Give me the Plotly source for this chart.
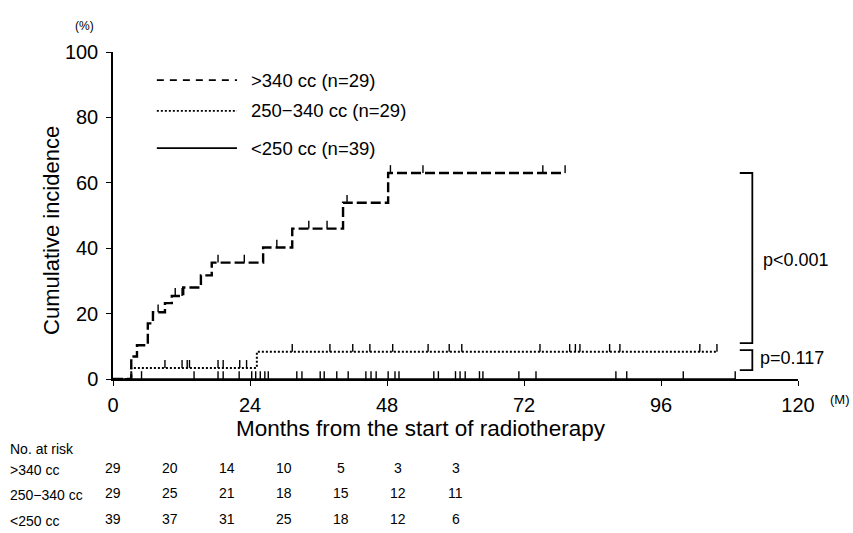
import numpy as np
import plotly.graph_objects as go

# ---- data ----
big_times = [0, 3.2, 4.2, 6.1, 7.0, 9.1, 10.3, 12.3, 15.4, 17.3, 26.3, 31.4, 40.3, 48.2, 79.2]
big_vals = [0, 6.9, 10.3, 17.0, 20.4, 23.2, 25.4, 28.0, 31.7, 35.6, 40.2, 46.0, 53.9, 63.0, 63.0]
big_cens = [7.9, 10.9, 12.1, 18.4, 23.0, 28.7, 34.3, 37.5, 41.0, 48.6, 54.3, 75.3, 79.2]

mid_times = [0, 3.2, 25.2, 105.8]
mid_vals = [0, 3.4, 8.3, 8.3]
mid_cens = [9.1, 12.1, 13.0, 13.4, 18.4, 19.3, 22.2, 23.4, 31.4, 38.0, 42.0, 45.0, 49.0,
            55.2, 58.9, 61.1, 74.8, 80.0, 81.0, 81.8, 87.0, 88.8, 102.8, 105.8]

small_times = [0, 109.0]
small_vals = [0, 0]
small_cens = [5.0, 14.2, 18.4, 19.3, 22.1, 24.3, 25.0, 25.8, 26.6, 27.2, 32.2, 33.1, 36.3,
              37.0, 39.2, 41.2, 44.3, 45.2, 46.1, 48.2, 49.4, 50.1, 56.2, 57.0, 60.0, 60.8,
              61.7, 64.2, 64.8, 71.1, 74.1, 88.1, 90.0, 99.9, 109.0]

group_labels = [">340 cc", "250−340 cc", "<250 cc"]
group_n = [29, 29, 39]
risk_months = [0, 10, 20, 30, 40, 50, 60]
risk_big = [29, 20, 14, 10, 5, 3, 3]
risk_mid = [29, 25, 21, 18, 15, 12, 11]
risk_small = [39, 37, 31, 25, 18, 12, 6]

x_ticks = [0, 24, 48, 72, 96, 120]
y_ticks = [0, 20, 40, 60, 80, 100]

FONT = "Liberation Sans"


def step_value(times, vals, t):
    i = np.searchsorted(np.array(times), t, side="right") - 1
    return vals[max(i, 0)]


fig = go.Figure()
series = [
    (big_times, big_vals, big_cens, "10px,4px", 2.4),
    (mid_times, mid_vals, mid_cens, "2px,2px", 2.0),
    (small_times, small_vals, small_cens, "solid", 1.6),
]
for times, vals, cens, dash, w in series:
    fig.add_trace(go.Scatter(x=times, y=vals, mode="lines", line_shape="hv",
                             line=dict(color="black", width=w, dash=dash),
                             cliponaxis=False, showlegend=False, hoverinfo="skip"))
    cy = [step_value(times, vals, t) for t in cens]
    fig.add_trace(go.Scatter(x=cens, y=cy, mode="markers",
                             marker=dict(size=1, color="rgba(0,0,0,0)"),
                             error_y=dict(type="constant", value=2.4, valueminus=0,
                                          symmetric=False, width=0, thickness=1.4,
                                          color="black"),
                             cliponaxis=False, showlegend=False, hoverinfo="skip"))

shapes = []
annotations = []


def note(x, y, text, size, xref="paper", yref="paper", xanchor="center", angle=0):
    annotations.append(dict(xref=xref, yref=yref, x=x, y=y, text=text, showarrow=False,
                            xanchor=xanchor, yanchor="middle", textangle=angle,
                            font=dict(size=size, color="black")))


# legend drawn by hand
leg_rows = [0.914, 0.82, 0.706]
leg_dash = ["7px,6px", "2px,2px", "solid"]
for lbl, n, yy, d in zip(group_labels, group_n, leg_rows, leg_dash):
    shapes.append(dict(type="line", xref="paper", yref="paper", x0=0.064, x1=0.181,
                       y0=yy, y1=yy, line=dict(color="black", width=1.8, dash=d)))
    note(0.198, yy, f"{lbl} (n={n})", 18.5, xanchor="left")

# p-value brackets
brackets = [(63.0, 11.0, "p<0.001", 36.5, 113.6), (8.8, 2.7, "p=0.117", 6.4, 113.0)]
for top, bot, txt, ty, tx in brackets:
    shapes.append(dict(type="path", xref="x", yref="y",
                       path=f"M 109.8 {top} L 112 {top} L 112 {bot} L 109.8 {bot}",
                       line=dict(color="black", width=1.8)))
    note(tx, ty, txt, 18, xref="x", yref="y", xanchor="left")

# axis unit labels and titles
note(-0.042, 1.08, "(%)", 12)
note(1.044, -0.064, "(M)", 13, xanchor="left")
note(-0.089, 0.453, "Cumulative incidence", 22, angle=-90)
note(0.45, -0.15, "Months from the start of radiotherapy", 22.5)
note(-0.153, -0.214, "No. at risk", 14, xanchor="left")

# number at risk table
row_y = [-0.278, -0.355, -0.434]
for lbl, yy, counts in zip(group_labels, row_y, [risk_big, risk_mid, risk_small]):
    note(-0.153, yy, lbl, 14, xanchor="left")
    for m, c in zip(risk_months, counts):
        note(m, yy + 0.006, str(c), 14, xref="x")

fig.update_layout(
    width=853, height=533,
    margin=dict(l=113, r=55, t=52, b=154),
    paper_bgcolor="white", plot_bgcolor="white",
    font=dict(family=FONT, color="black"),
    shapes=shapes, annotations=annotations, showlegend=False,
    xaxis=dict(range=[0, 120], tickvals=x_ticks, ticks="outside", ticklen=5,
               tickwidth=1.2, tickcolor="black", showline=True, linecolor="black",
               linewidth=1.5, showgrid=False, zeroline=False, tickfont=dict(size=20),
               ticklabelstandoff=2),
    yaxis=dict(range=[0, 100], tickvals=y_ticks, ticks="outside", ticklen=5,
               tickwidth=1.2, tickcolor="black", showline=True, linecolor="black",
               linewidth=1.5, showgrid=False, zeroline=False, tickfont=dict(size=20),
               ticklabelstandoff=4),
)

fig.write_html("out.html", config={"displayModeBar": False},
               post_script="document.body.style.margin='0';document.body.style.overflow='hidden';")
